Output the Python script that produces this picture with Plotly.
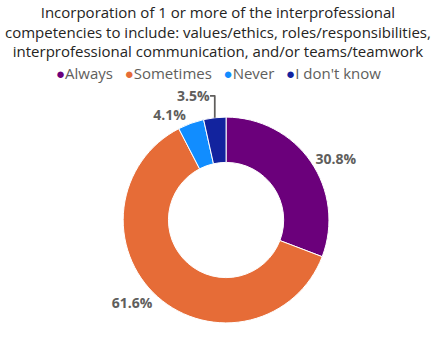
import plotly.graph_objects as go

categories = ["Always", "Sometimes", "Never", "I don't know"]
values = [30.8, 61.6, 4.1, 3.5]
colors = ["#6B007B", "#E66C37", "#118DFF", "#12239E"]
title_text = ("Incorporation of 1 or more of the interprofessional<br>"
              "competencies to include: values/ethics, roles/responsibilities,<br>"
              "interprofessional communication, and/or teams/teamwork")

FONT = "Segoe UI, Open Sans, sans-serif"

fig = go.Figure()
fig.add_trace(go.Pie(
    labels=categories, values=values, sort=False, direction="clockwise", rotation=0,
    hole=0.56, marker=dict(colors=colors, line=dict(color="white", width=1)),
    texttemplate="<b>%{value:.1f}%</b>", textposition="outside",
    textfont=dict(family=FONT, size=14, color="#605E5C"),
    showlegend=False, domain=dict(x=[0.282, 0.755], y=[0.093, 0.671]),
    hoverinfo="label+percent",
))

legend_text = "   ".join(
    f"<span style='color:{col}'>●</span>{c}" for c, col in zip(categories, colors)
)

fig.update_layout(
    width=436, height=356, margin=dict(l=0, r=0, t=0, b=0),
    paper_bgcolor="white", plot_bgcolor="white", showlegend=False,
    annotations=[
        dict(text=title_text, x=0.5, y=1.0, xref="paper", yref="paper",
             xanchor="center", yanchor="top", showarrow=False, align="center",
             font=dict(family=FONT, size=15, color="#252423")),
        dict(text=legend_text, x=0.5, y=0.795, xref="paper", yref="paper",
             xanchor="center", yanchor="middle", showarrow=False,
             font=dict(family=FONT, size=15, color="#605E5C")),
    ],
)
fig.write_html("out.html")
